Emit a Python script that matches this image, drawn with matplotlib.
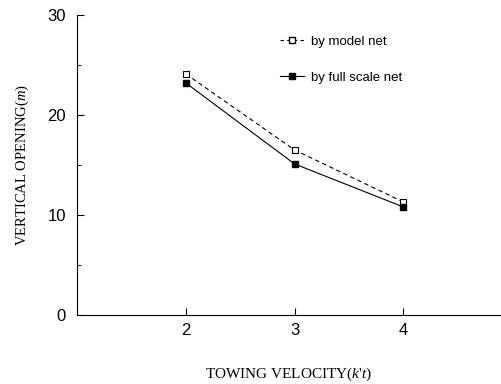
import matplotlib.pyplot as plt
from matplotlib.lines import Line2D

plt.rcParams['font.family'] = ['Liberation Sans', 'DejaVu Sans']
plt.rcParams['mathtext.fontset'] = 'custom'
plt.rcParams['mathtext.it'] = 'Liberation Serif:italic'
plt.rcParams['mathtext.rm'] = 'Liberation Serif'

# towing velocity (knots) and vertical opening (m)
velocity = [2, 3, 4]
model_net = [24.1, 16.5, 11.3]
full_scale_net = [23.2, 15.1, 10.8]

fig = plt.figure(figsize=(5.01, 3.84), dpi=100)
ax = fig.add_axes([0.154, 0.18, 0.846, 0.781])

ax.plot(velocity, model_net, ls=(0, (4, 3)), color='black', lw=0.8,
        marker='s', mfc='white', mec='black', ms=5, mew=0.8)
ax.plot(velocity, full_scale_net, ls='-', color='black', lw=0.8,
        marker='s', mfc='black', mec='black', ms=5)

ax.set_xlim(1, 4.9)
ax.set_ylim(0, 30)
ax.set_xticks([2, 3, 4])
ax.set_yticks([0, 10, 20, 30])
ax.set_yticks([5, 15, 25], minor=True)
ax.tick_params(direction='in', length=5, width=0.8, labelsize=12)
ax.tick_params(which='minor', direction='in', length=3, width=0.6)
ax.tick_params(axis='x', pad=6)
ax.tick_params(axis='y', pad=8)
for s in ['top', 'right']:
    ax.spines[s].set_visible(False)
for s in ['left', 'bottom']:
    ax.spines[s].set_linewidth(0.8)

ax.set_ylabel('VERTICAL OPENING($m$)', family='Liberation Serif', fontsize=10.5, labelpad=12)
ax.set_xlabel("TOWING VELOCITY($k$'$t$)", family='Liberation Serif', fontsize=11, labelpad=20)

handles = [
    Line2D([], [], ls=(0, (3, 3)), color='black', lw=0.8, marker='s',
           mfc='white', mec='black', ms=5),
    Line2D([], [], ls='-', color='black', lw=0.8, marker='s',
           mfc='black', mec='black', ms=5),
]
ax.legend(handles, ['by model net', 'by full scale net'], loc='upper left',
          bbox_to_anchor=(0.45, 0.97), frameon=False, fontsize=9.5,
          handlelength=1.8, labelspacing=1.8, handletextpad=0.6)

fig.savefig('out.png', dpi=100)
